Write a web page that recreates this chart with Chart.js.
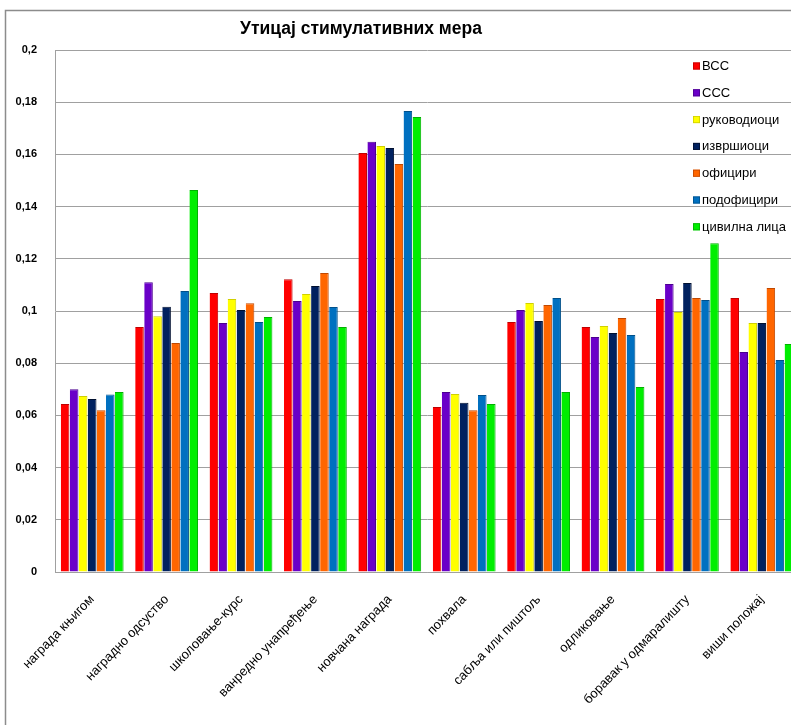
<!DOCTYPE html>
<html>
<head>
<meta charset="utf-8">
<script src="https://cdn.jsdelivr.net/npm/chart.js@4.4.0/dist/chart.umd.min.js"></script>
<style>
html,body{margin:0;padding:0;background:#fff;overflow:hidden;}
#wrap{position:relative;width:800px;height:725px;}
</style>
</head>
<body>
<div id="wrap"><canvas id="c"></canvas></div>
<script>
const categories = ['награда књигом','наградно одсуство','школовање-курс','ванредно унапређење','новчана награда','похвала','сабља или пиштољ','одликовање','боравак у одмаралишту','виши положај'];
const seriesNames = ['ВСС','ССС','руководиоци','извршиоци','официри','подофицири','цивилна лица'];
const vss         = [0.0644,0.0939,0.1069,0.1122,0.1605,0.0632,0.0958,0.0939,0.1046,0.1050];
const sss         = [0.0700,0.1110,0.0954,0.1038,0.1648,0.0690,0.1004,0.0900,0.1103,0.0843];
const rukovodioci = [0.0674,0.0980,0.1046,0.1065,0.1632,0.0682,0.1031,0.0943,0.0996,0.0954];
const izvrsioci   = [0.0663,0.1016,0.1004,0.1096,0.1625,0.0648,0.0962,0.0916,0.1107,0.0954];
const oficiri     = [0.0620,0.0877,0.1030,0.1146,0.1563,0.0620,0.1023,0.0973,0.1050,0.1088];
const podoficiri  = [0.0680,0.1077,0.0958,0.1015,0.1766,0.0678,0.1050,0.0908,0.1042,0.0812];
const civilna     = [0.0690,0.1464,0.0977,0.0939,0.1743,0.0644,0.0690,0.0709,0.1260,0.0874];
const yTickLabels = ['0','0,02','0,04','0,06','0,08','0,1','0,12','0,14','0,16','0,18','0,2'];
const titleText = 'Утицај стимулативних мера';

const seriesValues = [vss,sss,rukovodioci,izvrsioci,oficiri,podoficiri,civilna];
const colors = ['#ff0000','#6a00c8','#ffff00','#00215f','#ff6600','#0070c0','#00ee00'];
const borders = ['#c00000','#4b0090','#d0d000','#001030','#c04800','#00508a','#00b000'];

const decor = {
  id:'decor',
  beforeDraw(chart){
    const ctx = chart.ctx;
    ctx.save();
    ctx.strokeStyle = '#8c8c8c';
    ctx.lineWidth = 1.5;
    ctx.beginPath();
    ctx.moveTo(5.5, 725);
    ctx.lineTo(5.5, 10.5);
    ctx.lineTo(800, 10.5);
    ctx.stroke();
    ctx.restore();
  },
  afterDraw(chart){
    const ctx = chart.ctx;
    ctx.save();
    ctx.fillStyle = '#000';
    ctx.font = 'bold 17.5px "Liberation Sans", Arial, sans-serif';
    ctx.textAlign = 'center';
    ctx.textBaseline = 'middle';
    ctx.fillText(titleText, 361, 29);
    ctx.font = '13px "Liberation Sans", Arial, sans-serif';
    ctx.textAlign = 'left';
    chart.data.datasets.forEach((ds, i) => {
      const y = 66 + i * 26.8;
      ctx.fillStyle = ds.backgroundColor;
      ctx.fillRect(693, y - 3.5, 7, 7);
      ctx.strokeStyle = ds.borderColor;
      ctx.lineWidth = 0.8;
      ctx.strokeRect(693.4, y - 3.1, 6.2, 6.2);
      ctx.fillStyle = '#000';
      ctx.fillText(ds.label, 702, y + 0.5);
    });
    ctx.restore();
  }
};

new Chart(document.getElementById('c'), {
  type: 'bar',
  data: {
    labels: categories,
    datasets: seriesNames.map((n, i) => ({
      label: n,
      data: seriesValues[i],
      backgroundColor: colors[i],
      borderColor: borders[i],
      borderWidth: {left:0, right:1, top:1, bottom:0},
      categoryPercentage: 0.85,
      barPercentage: 0.95
    }))
  },
  options: {
    responsive: true,
    maintainAspectRatio: false,
    animation: false,
    layout: { padding: { left: 12, top: 50, right: 1, bottom: 0 } },
    plugins: { legend: { display: false }, title: { display: false }, tooltip: { enabled: false } },
    scales: {
      x: {
        grid: { display: false, drawTicks: false },
        border: { color: '#a0a0a0', width: 1 },
        ticks: {
          autoSkip: false, minRotation: 46, maxRotation: 46, padding: 20,
          color: '#000',
          font: { family: '"Liberation Sans", Arial, sans-serif', size: 13 }
        },
        afterFit(s){ s.height = 153; s.paddingLeft = 0; s.paddingRight = 0; }
      },
      y: {
        min: 0, max: 0.2,
        grid: { color: '#a0a0a0', lineWidth: 1, drawTicks: false },
        border: { color: '#a0a0a0', width: 1 },
        ticks: {
          stepSize: 0.02, padding: 18, color: '#000',
          font: { family: '"Liberation Sans", Arial, sans-serif', size: 11, weight: 'bold' },
          callback(v, i){ return yTickLabels[Math.round(v / 0.02)]; }
        },
        afterFit(s){ s.width = 43; s.paddingTop = 0; s.paddingBottom = 0; }
      }
    }
  },
  plugins: [decor]
});
</script>
</body>
</html>
